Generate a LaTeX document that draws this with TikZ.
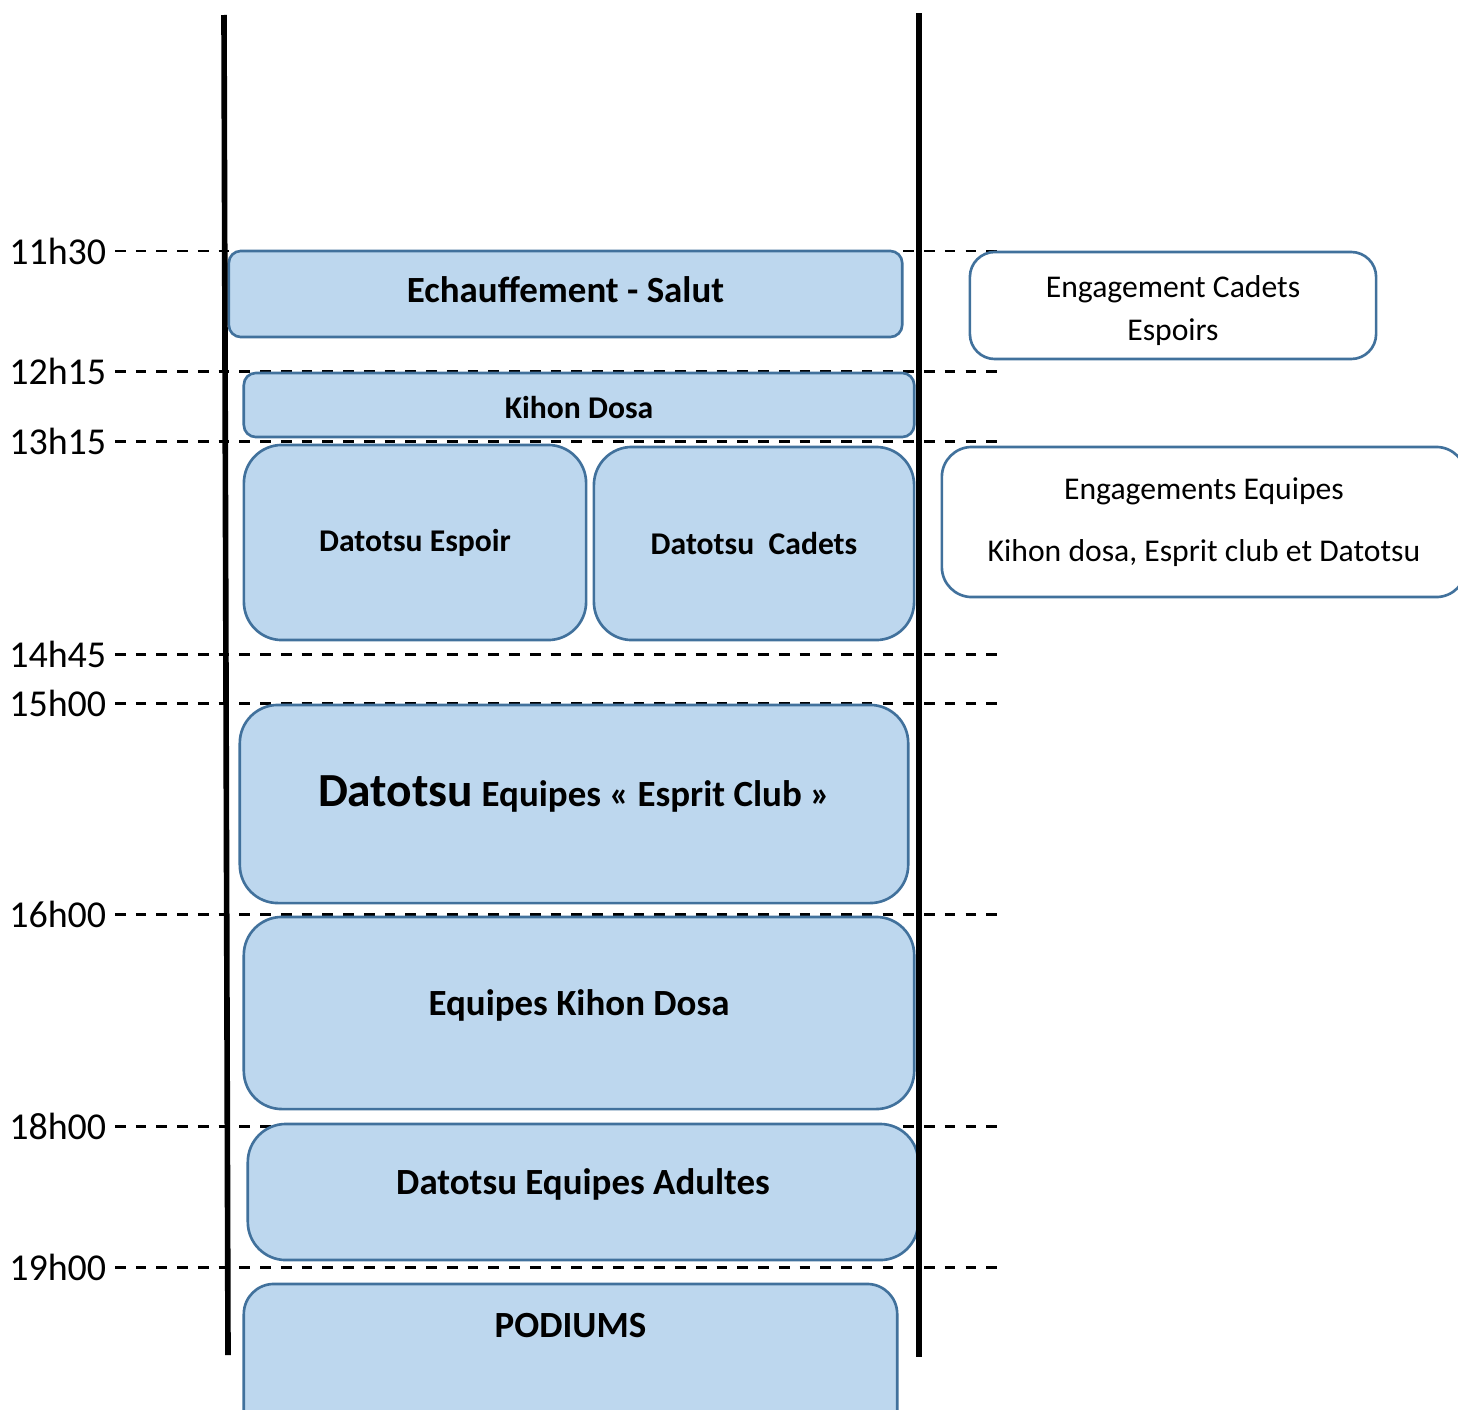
\documentclass[tikz,border=0pt]{standalone}
\usepackage{fontspec}
\setmainfont{Carlito}
\definecolor{slotfill}{HTML}{BDD7EE}
\definecolor{slotline}{HTML}{41719C}

\begin{document}
\begin{tikzpicture}[x = 0.01cm, y = -0.01cm,
    slot/.style = {draw = slotline, fill = slotfill, line width = 0.75pt, rounded corners = #1, inner sep = 0pt, align = center, font = \bfseries\fontsize{10.5}{12.6}\selectfont},
    slot/.default = 0.38cm,
    small/.style = {font = \bfseries\fontsize{9}{11}\selectfont},
    raised/.style = {text height = 7pt, text depth = 5.5pt},
    note/.style = {draw = slotline, fill = white, line width = 0.75pt, rounded corners = #1, inner sep = 0pt, align = center, font = \fontsize{9}{12.2}\selectfont},
    note/.default = 0.25cm,
    hour/.style = {font = \fontsize{10.8}{13}\selectfont, inner sep = 0pt, outer xsep = 2.5pt, anchor = east},
    tick/.style = {line width = 0.85pt, dash pattern = on 3pt off 2.9pt},
    rail/.style = {line width = 1.6pt}]
  \clip (0,0) rectangle (1458,1409);

  % time marks
  \foreach \lab/\y in {11h30/251, 12h15/371, 13h15/441, 14h45/654, 15h00/703, 16h00/914, 18h00/1126, 19h00/1267} {
    \node[hour] (h\lab) at (115,\y) {\lab};
    \coordinate (e\lab) at (1000,\y);
    \draw[tick] (h\lab.east) -- (e\lab);
  }

  % slots
  \node[slot = 0.12cm, text height = 7.3pt, text depth = 2.2pt, minimum width = 6.73cm, minimum height = 0.86cm] (echauf) at (565.5,294) {Echauffement - Salut};
  \node[slot = 0.12cm, small, text height = 8pt, minimum width = 6.70cm, minimum height = 0.64cm] (kihon) at (579,405) {Kihon Dosa};
  \node[slot, small, minimum width = 3.42cm, minimum height = 1.95cm] (espoir) at (415,542.5) {Datotsu Espoir};
  \node[slot, small, minimum width = 3.20cm, minimum height = 1.93cm] (cadets) at (754,543.5) {Datotsu~~Cadets};
  \node[slot, raised, minimum width = 6.68cm, minimum height = 1.98cm] (esprit) at (574,804) {{\fontsize{13.5}{16}\selectfont Datotsu} Equipes «~Esprit Club~»};
  \node[slot, raised, minimum width = 6.70cm, minimum height = 1.92cm] (kihoneq) at (579,1013) {Equipes Kihon Dosa};
  \node[slot, raised, minimum width = 6.70cm, minimum height = 1.36cm] (adultes) at (583,1192) {Datotsu Equipes Adultes};
  \node[slot = 0.3cm, text height = 7pt, text depth = 22pt, minimum width = 6.53cm, minimum height = 1.6cm] (podiums) at (570.5,1364) {PODIUMS};

  % registrations
  \node[note, minimum width = 4.06cm, minimum height = 1.07cm] (engcad) at (1173,305.5) {\rule{0pt}{9pt}Engagement Cadets\\Espoirs};
  \node[note = 0.3cm, minimum width = 5.24cm, minimum height = 1.50cm] (engeq) at (1204,522) {Engagements Equipes\\[5.6pt]Kihon dosa, Esprit club et Datotsu};

  % rails
  \coordinate (lefttop) at (224,15);
  \coordinate (leftbot) at (228,1355);
  \coordinate (righttop) at (919,13);
  \coordinate (rightbot) at (919,1357);
  \draw[rail] (lefttop) -- (leftbot);
  \draw[rail] (righttop) -- (rightbot);
\end{tikzpicture}
\end{document}
